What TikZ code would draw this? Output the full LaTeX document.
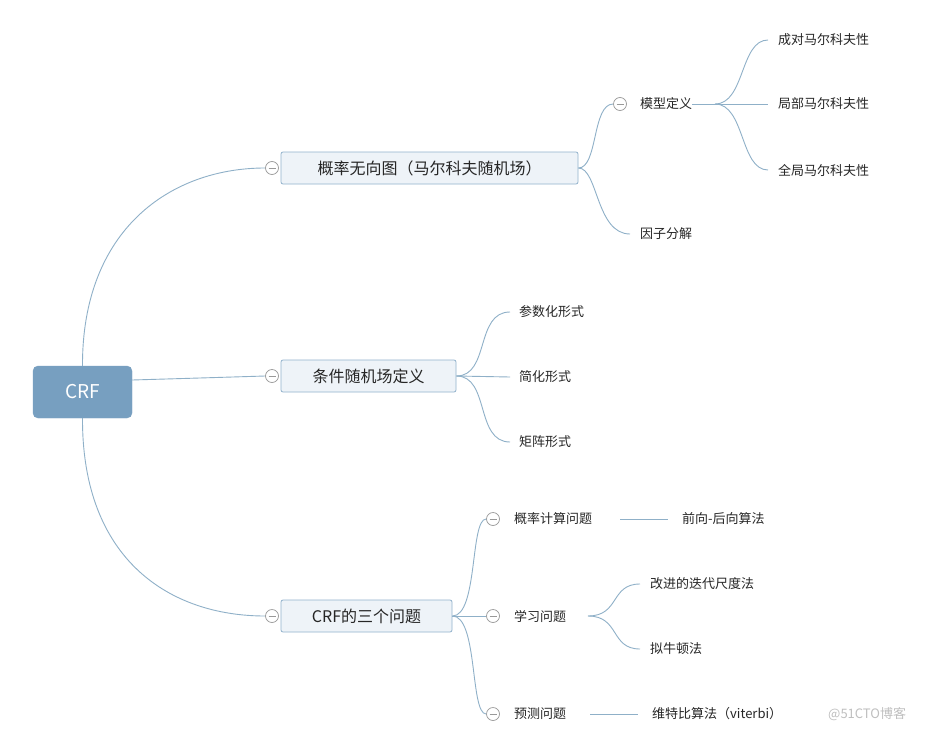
\documentclass[tikz,border=0pt]{standalone}
\usepackage{fontspec}
\setmainfont{Noto Sans CJK SC}
\begin{document}
\begin{tikzpicture}[x=1pt,y=-1pt,
  ln/.style={draw=lnc,line width=0.9pt},
  lone/.style={draw=boxb,fill=boxf,line width=0.8pt,rounded corners=2pt,minimum height=32pt,font=\fontsize{16}{18}\selectfont,text=black!85,inner xsep=0pt},
  leaf/.style={font=\fontsize{13}{15}\selectfont,text=black!85,anchor=west,inner sep=0pt},
  coll/.style={circle,draw=gray!80,fill=white,line width=0.7pt,minimum size=13pt,inner sep=0pt,
     path picture={\draw[gray!80,line width=0.8pt] ([xshift=-3.5pt]path picture bounding box.center)--([xshift=3.5pt]path picture bounding box.center);}}]
\definecolor{lnc}{HTML}{8FB0C8}
\definecolor{boxb}{HTML}{92B2CC}
\definecolor{boxf}{HTML}{EEF3F8}
\definecolor{rootc}{HTML}{779FC0}
\useasboundingbox[fill=white] (0,0) rectangle (935,731);
% root
\node[draw=rootc,fill=rootc,rounded corners=5pt,minimum width=99pt,minimum height=52pt,text=white,font=\fontsize{19}{21}\selectfont] (root) at (82.5,392) {CRF};
% level 1
\node[lone,minimum width=297pt] (a) at (429.5,168) {概率无向图（马尔科夫随机场）};
\node[lone,minimum width=175pt] (b) at (368.5,376) {条件随机场定义};
\node[lone,minimum width=171pt] (c) at (366.5,616) {CRF的三个问题};
\node[coll] (ca) at (272,168) {};
\node[coll] (cb) at (272,376) {};
\node[coll] (cc) at (272,616) {};
\draw[ln] (root.north) .. controls (82,230) and (170,168) .. (ca.west);
\draw[ln] (root.east) ++(0,-12) coordinate (re) .. controls (200,378) .. (cb.west);
\draw[ln] (root.south) .. controls (82,560) and (170,616) .. (cc.west);
% branch a
\node[coll] (ca1) at (620,104) {};
\node[leaf] (a1) at (640,104) {模型定义};
\node[leaf] (a2) at (640,234) {因子分解};
\coordinate (a2s) at (630,234);
\draw[ln] (a.east) .. controls (598,168) and (592,104) .. (ca1.west);
\draw[ln] (a.east) .. controls (598,168) and (596,234) .. (a2s);
\coordinate (a1e) at (715,104);
\node[leaf] (a11) at (778,40) {成对马尔科夫性};
\node[leaf] (a12) at (778,104) {局部马尔科夫性};
\node[leaf] (a13) at (778,170) {全局马尔科夫性};
\draw[ln] (a1.east) -- (a1e);
\draw[ln] (a1e) .. controls (745,104) and (740,40) .. (768,40);
\draw[ln] (a1e) -- (768,104);
\draw[ln] (a1e) .. controls (745,104) and (740,170) .. (768,170);
% branch b
\node[leaf] (b1) at (519,312) {参数化形式};
\node[leaf] (b2) at (519,377) {简化形式};
\node[leaf] (b3) at (519,442) {矩阵形式};
\draw[ln] (b.east) .. controls (490,376) and (475,312) .. (510,312);
\draw[ln] (b.east) -- (510,377);
\draw[ln] (b.east) .. controls (490,376) and (475,442) .. (510,442);
% branch c
\node[coll] (cc1) at (493,519) {};
\node[coll] (cc2) at (493,616) {};
\node[coll] (cc3) at (493,714) {};
\node[leaf] (c1) at (514,519) {概率计算问题};
\node[leaf] (c2) at (514,616) {学习问题};
\node[leaf] (c3) at (514,714) {预测问题};
\draw[ln] (c.east) .. controls (478,616) and (470,519) .. (cc1.west);
\draw[ln] (c.east) -- (cc2.west);
\draw[ln] (c.east) .. controls (478,616) and (470,714) .. (cc3.west);
\node[leaf] (c11) at (682,519) {前向-后向算法};
\draw[ln] (620,519) coordinate (c1e) -- (668,519);
\node[leaf] (c21) at (650,584) {改进的迭代尺度法};
\node[leaf] (c22) at (650,649) {拟牛顿法};
\coordinate (c2e) at (588,616);
\draw[ln] (c2e) .. controls (620,616) and (610,584) .. (640,584);
\draw[ln] (c2e) .. controls (620,616) and (610,649) .. (640,649);
\node[leaf] (c31) at (652,714) {维特比算法（viterbi）};
\draw[ln] (590,714) coordinate (c3e) -- (638,714);
\node[leaf,text=black!25] (wm) at (828,714) {@51CTO博客};
\end{tikzpicture}
\end{document}
